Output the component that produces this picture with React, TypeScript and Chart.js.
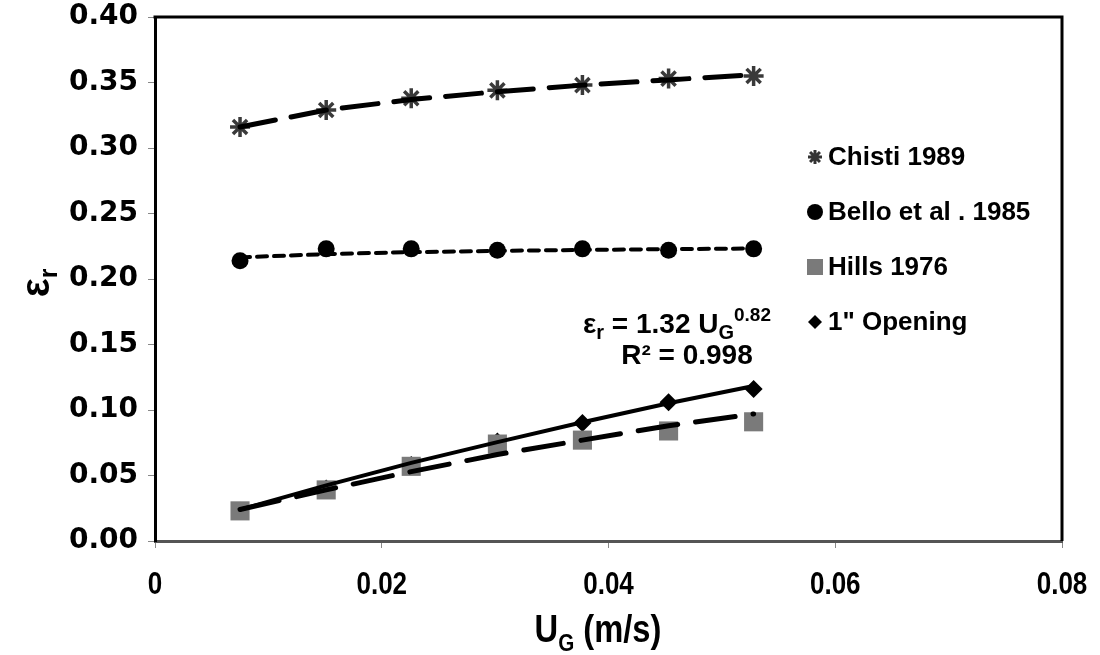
import React, { useEffect, useRef } from "react";
import { Chart, registerables } from "chart.js";

Chart.register(...registerables);

const ugValues = [0.0075, 0.0151, 0.0226, 0.0302, 0.0377, 0.0453, 0.0528];
const chistiValues = [0.316, 0.329, 0.338, 0.344, 0.348, 0.353, 0.355];
const belloValues = [0.214, 0.223, 0.223, 0.222, 0.223, 0.222, 0.223];
const hillsValues = [0.023, 0.039, 0.057, 0.074, 0.077, 0.084, 0.091];
const openingValues = [0.023, 0.040, 0.058, 0.076, 0.090, 0.106, 0.116];

const chistiTrend = [0.316, 0.329, 0.337, 0.343, 0.348, 0.352, 0.356];
const belloTrend = [0.2165, 0.219, 0.2205, 0.2215, 0.2222, 0.2228, 0.2233];
const hillsTrend = [0.024, 0.039, 0.053, 0.066, 0.077, 0.088, 0.097];
const openingTrend = [0.024, 0.0425, 0.0596, 0.0755, 0.0906, 0.1051, 0.1183];

const xTicks = [0, 0.02, 0.04, 0.06, 0.08];
const xTickLabels = ["0", "0.02", "0.04", "0.06", "0.08"];
const yTicks = [0, 0.05, 0.1, 0.15, 0.2, 0.25, 0.3, 0.35, 0.4];

const legendLabels = ["Chisti 1989", "Bello et al . 1985", "Hills 1976", "1\" Opening"];

const SANS = '"Liberation Sans", Arial, sans-serif';

const pts = (ys: number[]) => ugValues.map((x, i) => ({ x, y: ys[i] }));

type Run = { t: string; f: string; dy?: number };

function drawRuns(ctx: CanvasRenderingContext2D, runs: Run[], cx: number, y: number, sx = 1) {
  let total = 0;
  const widths = runs.map((r) => {
    ctx.font = r.f;
    const w = ctx.measureText(r.t).width;
    total += w;
    return w;
  });
  ctx.save();
  ctx.translate(cx, y);
  ctx.scale(sx, 1);
  let x = -total / 2;
  ctx.textAlign = "left";
  ctx.textBaseline = "alphabetic";
  runs.forEach((r, i) => {
    ctx.font = r.f;
    ctx.fillText(r.t, x, r.dy || 0);
    x += widths[i];
  });
  ctx.restore();
}

function drawStar(ctx: CanvasRenderingContext2D, x: number, y: number, r: number) {
  ctx.beginPath();
  for (let k = 0; k < 4; k++) {
    const a = (k * Math.PI) / 4;
    ctx.moveTo(x - Math.cos(a) * r, y - Math.sin(a) * r);
    ctx.lineTo(x + Math.cos(a) * r, y + Math.sin(a) * r);
  }
  ctx.stroke();
}

const decorPlugin = {
  id: "decor",
  afterDatasetsDraw(chart: any) {
    const ctx: CanvasRenderingContext2D = chart.ctx;
    const { left, right, top, bottom } = chart.chartArea;
    ctx.save();
    // frame top/right
    ctx.strokeStyle = "#000";
    ctx.lineWidth = 3;
    ctx.beginPath();
    ctx.moveTo(left - 1.5, top);
    ctx.lineTo(right, top);
    ctx.lineTo(right, bottom);
    ctx.stroke();

    // x tick labels (condensed bold)
    const xs = chart.scales.x;
    ctx.fillStyle = "#000";
    xTicks.forEach((v, i) => {
      drawRuns(ctx, [{ t: xTickLabels[i], f: "bold 31px " + SANS }], xs.getPixelForValue(v), 594, 0.84);
    });

    // legend
    const lx = 815;
    const tx = 828;
    const rows = [157, 212, 267, 322];
    rows.forEach((ry, i) => {
      ctx.fillStyle = "#000";
      ctx.font = "bold 26px " + SANS;
      ctx.textAlign = "left";
      ctx.textBaseline = "middle";
      ctx.fillText(legendLabels[i], tx, ry + 1);
      if (i === 0) {
        ctx.strokeStyle = "#333";
        ctx.lineWidth = 3;
        drawStar(ctx, lx, ry, 7);
      } else if (i === 1) {
        ctx.beginPath();
        ctx.arc(lx, ry, 8, 0, Math.PI * 2);
        ctx.fill();
      } else if (i === 2) {
        ctx.fillStyle = "#7a7a7a";
        ctx.fillRect(lx - 8, ry - 8, 16, 16);
      } else {
        ctx.beginPath();
        ctx.moveTo(lx, ry - 7);
        ctx.lineTo(lx + 7, ry);
        ctx.lineTo(lx, ry + 7);
        ctx.lineTo(lx - 7, ry);
        ctx.closePath();
        ctx.fill();
      }
    });

    // annotation
    ctx.fillStyle = "#000";
    const big = "bold 28px " + SANS;
    const sub = "bold 20px " + SANS;
    drawRuns(
      ctx,
      [
        { t: "\u03b5", f: big },
        { t: "r", f: sub, dy: 6 },
        { t: " = 1.32 U", f: big },
        { t: "G", f: sub, dy: 6 },
        { t: "0.82", f: "bold 19px " + SANS, dy: -12 },
      ],
      677,
      333
    );
    drawRuns(ctx, [{ t: "R\u00b2 = 0.998", f: big }], 687, 364);

    // x title (condensed)
    drawRuns(
      ctx,
      [
        { t: "U", f: "bold 38px " + SANS },
        { t: "G", f: "bold 24px " + SANS, dy: 9 },
        { t: " (m/s)", f: "bold 38px " + SANS },
      ],
      598,
      642,
      0.86
    );

    // y title
    ctx.translate(37, 283);
    ctx.rotate(-Math.PI / 2);
    drawRuns(
      ctx,
      [
        { t: "\u03b5", f: "bold 40px " + SANS },
        { t: "r", f: "bold 25px " + SANS, dy: 8 },
      ],
      0,
      12
    );
    ctx.restore();
  },
};

const noPad = (s: any) => {
  s.paddingTop = 0;
  s.paddingBottom = 0;
  s.paddingLeft = 0;
  s.paddingRight = 0;
};

export default function App() {
  const ref = useRef<HTMLCanvasElement | null>(null);
  useEffect(() => {
    document.body.style.margin = "0";
    const canvas = ref.current!;
    const chart = new Chart(canvas, {
      type: "scatter",
      data: {
        datasets: [
          {
            label: "Chisti trend",
            data: pts(chistiTrend),
            showLine: true,
            borderColor: "#000",
            borderWidth: 5,
            borderDash: [36, 16],
            borderCapStyle: "round",
            pointRadius: 0,
            order: 0,
          },
          {
            label: "Bello trend",
            data: pts(belloTrend),
            showLine: true,
            borderColor: "#000",
            borderWidth: 4,
            borderDash: [10, 7],
            borderCapStyle: "round",
            pointRadius: 0,
            order: 0,
          },
          {
            label: "Hills trend",
            data: pts(hillsTrend),
            showLine: true,
            borderColor: "#000",
            borderWidth: 5,
            borderDash: [40, 18],
            borderCapStyle: "round",
            pointRadius: 0,
            order: 0,
          },
          {
            label: "Opening trend",
            data: pts(openingTrend),
            showLine: true,
            borderColor: "#000",
            borderWidth: 4,
            pointRadius: 0,
            order: 0,
          },
          {
            label: legendLabels[0],
            data: pts(chistiValues),
            showLine: false,
            pointStyle: "star",
            pointRadius: 10,
            pointBorderWidth: 3.5,
            pointBorderColor: "#3a3a3a",
            pointBackgroundColor: "#3a3a3a",
            order: 1,
          },
          {
            label: legendLabels[1],
            data: pts(belloValues),
            showLine: false,
            pointStyle: "circle",
            pointRadius: 8.5,
            pointBorderWidth: 0,
            pointBackgroundColor: "#000",
            pointBorderColor: "#000",
            order: 1,
          },
          {
            label: legendLabels[2],
            data: pts(hillsValues),
            showLine: false,
            pointStyle: "rect",
            pointRadius: 13.5,
            pointBorderWidth: 0,
            pointBackgroundColor: "#7a7a7a",
            pointBorderColor: "#7a7a7a",
            order: 1,
          },
          {
            label: legendLabels[3],
            data: pts(openingValues),
            showLine: false,
            pointStyle: "rectRot",
            pointRadius: 9,
            pointBorderWidth: 0,
            pointBackgroundColor: "#000",
            pointBorderColor: "#000",
            order: 1,
          },
        ],
      },
      options: {
        animation: false,
        responsive: false,
        maintainAspectRatio: false,
        layout: { padding: { top: 17, right: 38, left: 0, bottom: 0 } },
        plugins: {
          legend: { display: false },
          tooltip: { enabled: false },
        },
        scales: {
          x: {
            type: "linear",
            min: 0,
            max: 0.08,
            afterBuildTicks: (s: any) => {
              s.ticks = xTicks.map((v) => ({ value: v }));
            },
            afterFit: (s: any) => {
              s.height = 114;
              noPad(s);
            },
            ticks: {
              display: false,
            },
            grid: {
              display: true,
              drawOnChartArea: false,
              drawTicks: true,
              tickLength: 7,
              tickColor: "#888",
              tickWidth: 1,
            },
            border: { display: true, color: "#555", width: 3 },
          },
          y: {
            type: "linear",
            min: 0,
            max: 0.4,
            afterBuildTicks: (s: any) => {
              s.ticks = yTicks.map((v) => ({ value: v }));
            },
            afterFit: (s: any) => {
              s.width = 155;
              noPad(s);
            },
            ticks: {
              callback: (v: any) => Number(v).toFixed(2),
              color: "#000",
              font: { family: '"DejaVu Sans", sans-serif', size: 28, weight: "bold" },
              padding: 10,
            },
            grid: {
              display: true,
              drawOnChartArea: false,
              drawTicks: true,
              tickLength: 7,
              tickColor: "#888",
              tickWidth: 1,
            },
            border: { display: true, color: "#000", width: 3 },
          },
        },
      },
      plugins: [decorPlugin],
    });
    return () => chart.destroy();
  }, []);
  return (
    <div style={{ width: 1100, height: 655 }}>
      <canvas ref={ref} width={1100} height={655} style={{ display: "block", width: 1100, height: 655 }} />
    </div>
  );
}
